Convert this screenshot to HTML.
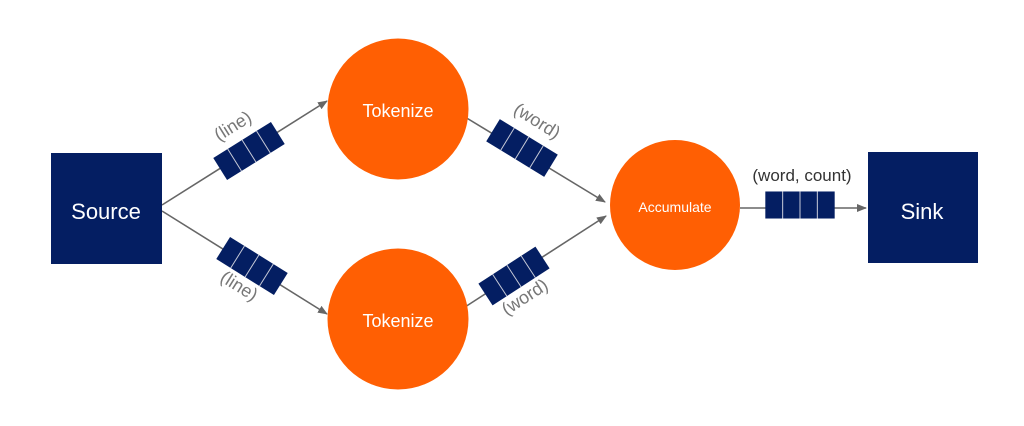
<!DOCTYPE html>
<html><head><meta charset="utf-8"><style>
html,body{margin:0;padding:0;background:#fff;width:1024px;height:426px;overflow:hidden}
svg text{font-family:"Liberation Sans",sans-serif}
</style></head><body>
<svg width="1024" height="426" viewBox="0 0 1024 426" xmlns="http://www.w3.org/2000/svg">
<defs>
<marker id="a" markerWidth="10" markerHeight="8" refX="9" refY="4" orient="auto" markerUnits="userSpaceOnUse">
<path d="M0,0 L10,4 L0,8 Z" fill="#666"/></marker>
<g id="q">
<rect x="-34" y="-13" width="68" height="26" fill="#041e62"/>
<line x1="-17" y1="-13" x2="-17" y2="13" stroke="#c8cbd8" stroke-width="1"/>
<line x1="0" y1="-13" x2="0" y2="13" stroke="#c8cbd8" stroke-width="1"/>
<line x1="17" y1="-13" x2="17" y2="13" stroke="#c8cbd8" stroke-width="1"/>
</g>
</defs>
<g stroke="#666" stroke-width="1.6" fill="none">
<line x1="162" y1="205" x2="327" y2="101" marker-end="url(#a)"/>
<line x1="162" y1="211" x2="327" y2="314" marker-end="url(#a)"/>
<line x1="465" y1="117" x2="605" y2="202" marker-end="url(#a)"/>
<line x1="465" y1="307" x2="606" y2="216" marker-end="url(#a)"/>
<line x1="740" y1="208" x2="866" y2="208" marker-end="url(#a)"/>
</g>
<rect x="51" y="153" width="111" height="111" fill="#041e62"/>
<rect x="868" y="152" width="110" height="111" fill="#041e62"/>
<circle cx="398" cy="109" r="70.5" fill="#ff5f03"/>
<circle cx="398" cy="319" r="70.5" fill="#ff5f03"/>
<circle cx="675" cy="205" r="65" fill="#ff5f03"/>
<use href="#q" transform="translate(249,151) rotate(-32)"/>
<use href="#q" transform="translate(252,266) rotate(32)"/>
<use href="#q" transform="translate(522,148) rotate(31.5)"/>
<use href="#q" transform="translate(514,276) rotate(-33)"/>
<use href="#q" transform="translate(800,205) scale(1.02,1.04)"/>
<g fill="#fff" text-anchor="middle">
<text x="106" y="219" font-size="22">Source</text>
<text x="922" y="219" font-size="22">Sink</text>
<text x="398" y="117" font-size="18">Tokenize</text>
<text x="398" y="327" font-size="18">Tokenize</text>
<text x="675" y="212" font-size="14">Accumulate</text>
</g>
<g fill="#777" font-size="18" text-anchor="middle">
<text transform="translate(236,131) rotate(-32)">(line)</text>
<text transform="translate(236,291) rotate(32)">(line)</text>
<text transform="translate(534,126) rotate(32)">(word)</text>
<text transform="translate(528,302) rotate(-33)">(word)</text>
<text x="802" y="181" fill="#333" font-size="17">(word, count)</text>
</g>
</svg>
</body></html>
